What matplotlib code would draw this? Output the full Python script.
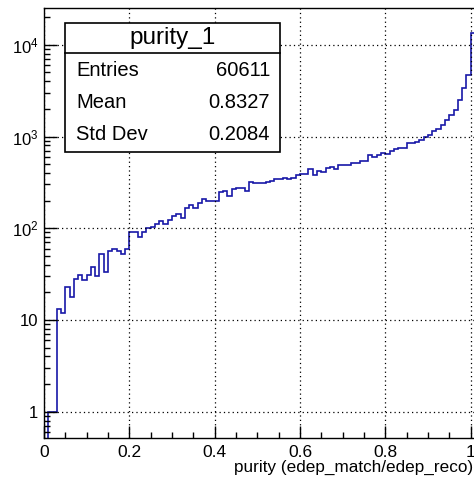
import numpy as np
import matplotlib
matplotlib.use("Agg")
import matplotlib.pyplot as plt
from matplotlib.patches import Rectangle
from matplotlib.ticker import FixedLocator, MultipleLocator, LogLocator, NullFormatter

plt.rcParams['font.family'] = ['Liberation Sans', 'DejaVu Sans']
plt.rcParams['mathtext.fontset'] = 'custom'
plt.rcParams['mathtext.rm'] = 'Liberation Sans'
plt.rcParams['mathtext.default'] = 'regular'

# histogram: 101 bins of width 0.01 from 0 to 1.01
bin_width = 0.01
counts = [
    0, 1, 1, 13, 12, 23, 18, 28, 31, 27,
    31, 38, 30, 53, 33, 57, 60, 57, 52, 59,
    90, 91, 81, 91, 100, 104, 110, 121, 112, 122,
    137, 143, 130, 165, 180, 168, 190, 207, 198, 198,
    200, 250, 255, 226, 265, 273, 276, 254, 318, 314,
    313, 313, 320, 328, 340, 345, 352, 342, 355, 380,
    391, 391, 440, 378, 425, 411, 455, 470, 440, 494,
    494, 494, 512, 512, 538, 538, 625, 604, 635, 657,
    648, 691, 726, 751, 751, 846, 846, 874, 919, 998,
    1050, 1143, 1220, 1328, 1517, 1707, 1950, 2508, 3390, 4730,
    13380,
]
x_ticks = [0, 0.2, 0.4, 0.6, 0.8, 1]
x_tick_labels = ['0', '0.2', '0.4', '0.6', '0.8', '1']
y_ticks = [1, 10, 100, 1000, 10000]
y_tick_labels = ['1', '10', r'$10^{2}$', r'$10^{3}$', r'$10^{4}$']
stats_title = 'purity_1'
stats_names = ['Entries', 'Mean', 'Std Dev']
stats_values = ['60611', '0.8327', '0.2084']
x_title = 'purity (edep_match/edep_reco)'

W, H = 474, 478
fig = plt.figure(figsize=(W / 100, H / 100), dpi=100)

x0, x1 = 0.0, 1.01
px_left, px_right = 44, 44 + 1.01 * 426.6
px_top, px_bot = 8, 438
ax = fig.add_axes([px_left / W, 1 - px_bot / H, (px_right - px_left) / W, (px_bot - px_top) / H])

edges = np.arange(len(counts) + 1) * bin_width
ax.stairs(counts, edges, baseline=None, color='#1818a8', lw=1.2)

ax.set_yscale('log')
ax.set_xlim(x0, x1)
ax.set_ylim(0.516, 25200)

ax.xaxis.set_major_locator(FixedLocator(x_ticks))
ax.set_xticklabels(x_tick_labels)
ax.xaxis.set_minor_locator(MultipleLocator(0.05))
ax.yaxis.set_major_locator(FixedLocator(y_ticks))
ax.set_yticklabels(y_tick_labels)
ax.yaxis.set_minor_locator(LogLocator(base=10, subs=np.arange(2, 10)))
ax.yaxis.set_minor_formatter(NullFormatter())

ax.tick_params(which='both', direction='in', top=False, right=False, width=1, colors='black')
ax.tick_params(which='major', length=9)
ax.tick_params(which='minor', length=4.5)
ax.tick_params(axis='x', labelsize=12.5, pad=5)
ax.tick_params(axis='y', labelsize=12, pad=4)
for s in ax.spines.values():
    s.set_linewidth(1.0)
ax.spines['right'].set_visible(False)

ax.grid(which='major', color='black', lw=0.9, linestyle=(0, (1, 2.5)))

fig.text(473 / W, 1 - 467 / H, x_title, ha='right', va='center', fontsize=12.3)

# stats box
bl, br, bt, bb, sep = 65, 280, 22.7, 151.7, 53.3
fig.patches.append(Rectangle((bl / W, 1 - bb / H), (br - bl) / W, (bb - bt) / H,
                             transform=fig.transFigure, facecolor='white',
                             edgecolor='black', lw=1.2, zorder=5))
fig.add_artist(plt.Line2D([bl / W, br / W], [1 - sep / H, 1 - sep / H],
                          transform=fig.transFigure, color='black', lw=1.2, zorder=6))
fig.text((bl + br) / 2 / W, 1 - 38 / H, stats_title, ha='center', va='center', fontsize=17.5, zorder=7)
rows_y = [70, 103, 135]
for name, val, yy in zip(stats_names, stats_values, rows_y):
    fig.text(76 / W, 1 - yy / H, name, ha='left', va='center', fontsize=14.5, zorder=7)
    fig.text(270 / W, 1 - yy / H, val, ha='right', va='center', fontsize=14.5, zorder=7)

fig.savefig('out.png', dpi=100)
